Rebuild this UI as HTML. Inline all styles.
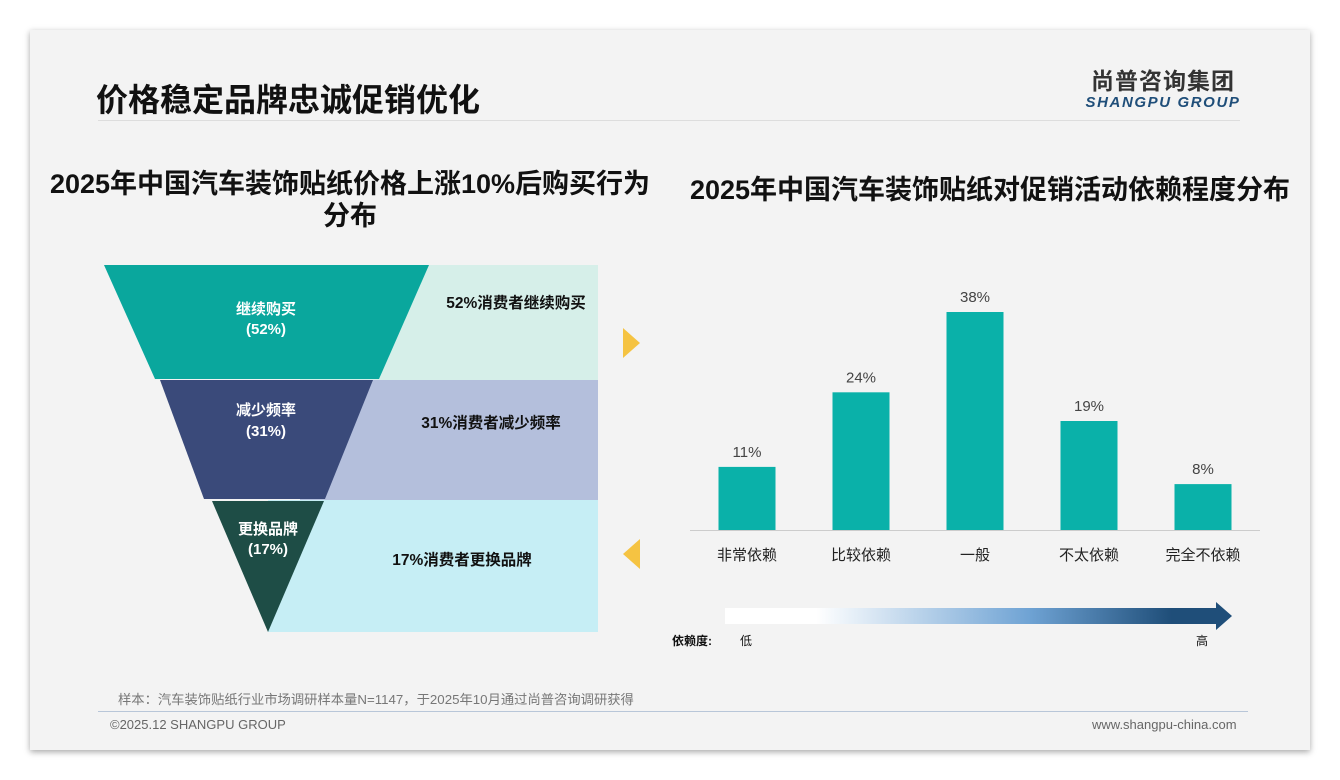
<!DOCTYPE html>
<html><head><meta charset="utf-8">
<style>
body{margin:0;width:1340px;height:780px;background:#fff;font-family:"Liberation Sans","Noto Sans CJK SC",sans-serif;overflow:hidden;position:relative}
.slide{position:absolute;left:30px;top:30px;width:1280px;height:720px;background:#f3f3f3;box-shadow:0 2px 6px rgba(0,0,0,.35)}
.abs{position:absolute}
</style></head><body>
<div class="slide"></div>
<div class="abs" style="left:96px;top:75px;font-size:32px;font-weight:bold;color:#111">价格稳定品牌忠诚促销优化</div>
<div class="abs" style="left:98px;top:120px;width:1142px;height:1px;background:#ddd"></div>
<div class="abs" style="left:1080px;top:62px;width:166px;text-align:center;color:#333">
<div style="font-size:23px;font-weight:bold;letter-spacing:1px">尚普咨询集团</div>
<div style="font-size:15px;font-weight:bold;font-style:italic;color:#1f4e79;letter-spacing:1.6px;margin-top:-2px">SHANGPU GROUP</div></div>
<div class="abs" style="left:30px;top:168px;width:640px;text-align:center;font-size:27px;font-weight:bold;line-height:32px;color:#111">2025年中国汽车装饰贴纸价格上涨10%后购买行为<br>分布</div>
<div class="abs" style="left:670px;top:168px;width:640px;text-align:center;font-size:27px;font-weight:bold;color:#111">2025年中国汽车装饰贴纸对促销活动依赖程度分布</div>

<svg class="abs" style="left:0;top:0" width="1340" height="780">
<g>
<rect x="300" y="265" width="298" height="115" fill="#d6efe9"/>
<rect x="300" y="380" width="298" height="120" fill="#b4bfdc"/>
<rect x="268" y="500" width="330" height="132" fill="#c6eef5"/>
<polygon points="104,265 429,265 379,379 155,379" fill="#0aa79d"/>
<polygon points="160,380 373,380 325,499 204,499" fill="#3a4a7a"/>
<polygon points="212,501 324,501 268,632" fill="#1e4d46"/>
<g font-weight="bold" font-size="15" fill="#fff" text-anchor="middle">
<text x="266" y="314">继续购买</text><text x="266" y="334">(52%)</text>
<text x="266" y="415">减少频率</text><text x="266" y="436">(31%)</text>
<text x="268" y="534">更换品牌</text><text x="268" y="554">(17%)</text></g>
<g font-weight="bold" font-size="15.5" fill="#111" text-anchor="middle">
<text x="516" y="308">52%消费者继续购买</text>
<text x="491" y="428">31%消费者减少频率</text>
<text x="462" y="565">17%消费者更换品牌</text></g>
</g>
<polygon points="623,328 640,343 623,358" fill="#f5c342"/>
<polygon points="640,539 623,554 640,569" fill="#f5c342"/>
<g id="bars"></g>
<defs><linearGradient id="gr" x1="0" x2="1"><stop offset="0" stop-color="#fff"/><stop offset="0.18" stop-color="#fff"/><stop offset="0.6" stop-color="#6fa3d4"/><stop offset="0.88" stop-color="#1f4e79"/><stop offset="1" stop-color="#1f4e79"/></linearGradient></defs>
<polygon points="725,608 1216,608 1216,602 1232,616 1216,630 1216,624 725,624" fill="url(#gr)"/>
<text x="672" y="645" font-size="12" font-weight="bold" fill="#111">依赖度:</text>
<text x="740" y="645" font-size="12" fill="#111">低</text>
<text x="1196" y="645" font-size="12" fill="#111">高</text>
</svg>
<div class="abs" style="left:118px;top:689px;font-size:13.3px;color:#777">样本：汽车装饰贴纸行业市场调研样本量N=1147，于2025年10月通过尚普咨询调研获得</div>
<div class="abs" style="left:98px;top:711px;width:1150px;height:1px;background:#b8c6d8"></div>
<div class="abs" style="left:110px;top:717px;font-size:13px;color:#666">©2025.12 SHANGPU GROUP</div>
<div class="abs" style="left:1092px;top:717px;font-size:13px;color:#666">www.shangpu-china.com</div>
<script>
const categories=["非常依赖","比较依赖","一般","不太依赖","完全不依赖"];
const values=[11,24,38,19,8];
const valueLabels=["11%","24%","38%","19%","8%"];
const NS="http://www.w3.org/2000/svg";
const g=document.getElementById('bars');
const x0=690,x1=1260,base=530,scale=218/38;
const step=(x1-x0)/categories.length;
const xc=i=>x0+step*(i+0.5);
const y=v=>base-v*scale;
const ax=document.createElementNS(NS,'line');


ax.setAttribute('x1',x0);ax.setAttribute('x2',x1);ax.setAttribute('y1',base+0.5);ax.setAttribute('y2',base+0.5);ax.setAttribute('stroke','#ccc');
g.appendChild(ax);
categories.forEach((c,i)=>{
 const r=document.createElementNS(NS,'rect');
 
 
 r.setAttribute('x',xc(i)-28.5);r.setAttribute('width',57);r.setAttribute('y',y(values[i]));r.setAttribute('height',base-y(values[i]));r.setAttribute('fill','#0ab1a9');
 g.appendChild(r);
 const t=document.createElementNS(NS,'text');
 
 
 t.setAttribute('x',xc(i));t.setAttribute('y',y(values[i])-10);t.setAttribute('text-anchor','middle');t.setAttribute('font-size','15');t.setAttribute('fill','#444');
 t.textContent=valueLabels[i];g.appendChild(t);
 const l=document.createElementNS(NS,'text');
 
 
 l.setAttribute('x',xc(i));l.setAttribute('y',560);l.setAttribute('text-anchor','middle');l.setAttribute('font-size','15');l.setAttribute('fill','#222');
 l.textContent=c;g.appendChild(l);
});
</script>
</body></html>
